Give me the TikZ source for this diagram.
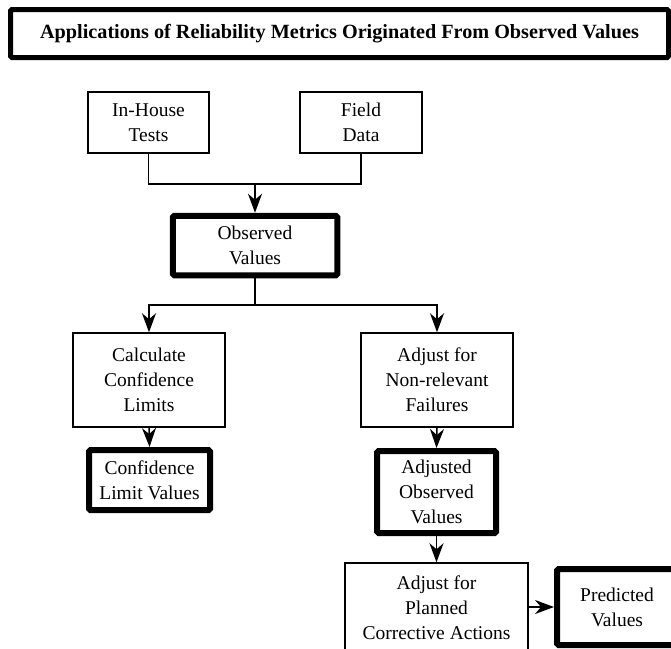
\documentclass[tikz,border=0pt]{standalone}
\usepackage{fontspec}
\setmainfont{Liberation Serif}
\usetikzlibrary{arrows.meta}

\tikzset{
  box/.style={draw, line width=1.5pt, rectangle, inner sep=0pt, align=center,
    font=\fontsize{19.5}{25}\selectfont},
  keybox/.style={box, line width=6pt, rounded corners=1.5pt},
  titlebox/.style={draw, line width=5pt, rectangle, inner sep=0pt, align=center,
    rounded corners=1.5pt, font=\bfseries\fontsize{20.2}{24}\selectfont},
  link/.style={line width=1.5pt},
  arrowlink/.style={link, -{Stealth[length=19pt, width=14pt, inset=6pt]}},
}

\begin{document}
\begin{tikzpicture}[x=1pt, y=-1pt]
\useasboundingbox (0,0) rectangle (671,648);

% heading
\node[titlebox, minimum width=658pt, minimum height=48pt] (title) at (339.5,33.5)
  {Applications of Reliability Metrics Originated From Observed Values};

% sources
\node[box, minimum width=121pt, minimum height=61pt] (inhouse) at (148.5,122.5) {In-House\\Tests};
\node[box, minimum width=122pt, minimum height=61pt] (field) at (361,122.5) {Field\\Data};

\node[keybox, minimum width=164.5pt, minimum height=59.5pt] (observed) at (255,245.5) {Observed\\Values};

% left branch
\node[box, minimum width=152pt, minimum height=94pt] (calc) at (149,380) {Calculate\\Confidence\\Limits};
\node[keybox, minimum width=121pt, minimum height=60pt] (conflim) at (149.5,480) {Confidence\\Limit Values};

% right branch
\node[box, minimum width=152pt, minimum height=94pt] (nonrel) at (437,380) {Adjust for\\Non-relevant\\Failures};
\node[keybox, minimum width=119pt, minimum height=82pt] (adjobs) at (436.5,492) {Adjusted\\Observed\\Values};
\node[box, minimum width=183pt, minimum height=89pt] (planned) at (436.5,607.5) {Adjust for\\Planned\\Corrective Actions};
\node[keybox, minimum width=120pt, minimum height=76pt] (predicted) at (617,607) {Predicted\\Values};

% junction points
\coordinate (merge) at (255,184);
\coordinate (split) at (255,305);

% connectors
\draw[link] (inhouse.south) |- (merge) -| (field.south);
\draw[arrowlink] (merge) -- (observed.north);
\draw[link] (observed.south) -- (split);
\draw[arrowlink] (split) -| (calc.north);
\draw[arrowlink] (split) -| (nonrel.north);
\draw[arrowlink] (calc.south) -- (conflim.north);
\draw[arrowlink] (nonrel.south) -- (adjobs.north);
\draw[arrowlink] (adjobs.south) -- (planned.north);
\draw[arrowlink] (planned.east |- predicted.west) -- (predicted.west);
\end{tikzpicture}
\end{document}
